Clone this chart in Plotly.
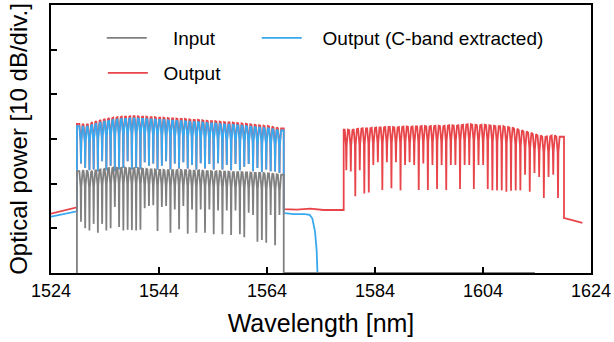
import plotly.graph_objects as go

# ---------------- data (dB; 10 dB/div, bottom = -60) ----------------
tick_vals_x = [1524, 1544, 1564, 1584, 1604, 1624]
tick_vals_y = [-50, -40, -30, -20, -10]

# C-band channel grid (nm)
c_channels = [1529.55, 1530.33, 1531.12, 1531.90, 1532.68, 1533.47, 1534.25, 1535.04, 1535.82,
              1536.61, 1537.40, 1538.19, 1538.98, 1539.77, 1540.56, 1541.35, 1542.14, 1542.94,
              1543.73, 1544.53, 1545.32, 1546.12, 1546.92, 1547.72, 1548.51, 1549.32, 1550.12,
              1550.92, 1551.72, 1552.52, 1553.33, 1554.13, 1554.94, 1555.75, 1556.55, 1557.36,
              1558.17, 1558.98, 1559.79, 1560.61, 1561.42, 1562.23, 1563.05, 1563.86, 1564.68,
              1565.50, 1566.31]
c_band_edges = [1528.8, 1567.1]

input_top = [-37.2, -37.0, -37.4, -37.1, -36.9, -36.8, -36.6, -36.5, -36.4, -36.5, -36.4, -36.5,
             -36.6, -36.5, -36.6, -36.7, -36.8, -36.8, -36.9, -36.9, -37.0, -37.0, -37.0, -36.9,
             -37.0, -37.0, -37.1, -37.1, -37.0, -37.2, -37.2, -37.3, -37.2, -37.3, -37.3, -37.4,
             -37.4, -37.4, -37.5, -37.5, -37.6, -37.6, -37.6, -37.7, -37.7, -37.9, -38.0]
input_dip = [-48.5, -50.0, -50.5, -49.0, -51.0, -49.0, -50.5, -50.0, -45.2, -49.7, -50.5, -50.3,
             -50.4, -50.5, -50.3, -45.5, -45.0, -44.8, -50.6, -45.2, -45.0, -51.0, -45.8, -50.2,
             -45.0, -51.2, -45.8, -51.0, -45.8, -51.0, -45.8, -51.3, -46.0, -51.3, -46.0, -51.5,
             -46.0, -51.3, -52.0, -46.5, -47.0, -53.0, -52.6, -53.2, -47.0, -53.8, -47.0]
input_floor_x = [1567.15, 1613.6]
input_floor_y = [-60.0, -60.0]

cband_top = [-27.1, -27.3, -27.1, -26.7, -26.5, -26.2, -26.0, -25.8, -25.7, -25.6, -25.5, -25.5,
             -25.4, -25.4, -25.5, -25.5, -25.6, -25.6, -25.7, -25.7, -25.8, -25.9, -25.9, -26.0,
             -26.0, -26.1, -26.2, -26.2, -26.3, -26.4, -26.5, -26.5, -26.6, -26.7, -26.8, -26.8,
             -26.9, -27.0, -27.1, -27.2, -27.3, -27.4, -27.5, -27.6, -27.7, -27.9, -28.1]
cband_dip = [-35.5, -36.5, -37.0, -36.8, -37.2, -35.0, -37.0, -36.0, -37.2, -36.8, -36.5, -35.0,
             -36.8, -36.5, -36.8, -35.2, -36.0, -35.5, -36.8, -36.0, -35.0, -36.8, -35.5, -36.6,
             -35.2, -36.6, -35.8, -36.8, -35.4, -36.6, -35.6, -36.8, -35.4, -36.8, -35.8, -37.0,
             -35.6, -37.0, -36.2, -35.6, -37.2, -36.5, -37.4, -36.8, -37.2, -37.3, -37.6]
cband_left_x = [1524.0, 1526.0, 1528.7]
cband_left_y = [-47.4, -46.9, -46.2]
cband_right_x = [1567.2, 1569.0, 1571.0, 1571.9, 1572.4, 1572.9, 1573.2, 1573.4]
cband_right_y = [-46.6, -46.8, -46.8, -47.0, -47.8, -50.8, -55.0, -62.0]

output_c_top = [-26.6, -26.8, -26.6, -26.2, -26.0, -25.7, -25.5, -25.3, -25.2, -25.1, -25.0, -25.0,
                -24.9, -24.9, -25.0, -25.0, -25.1, -25.1, -25.2, -25.2, -25.3, -25.4, -25.4, -25.5,
                -25.5, -25.6, -25.7, -25.7, -25.8, -25.9, -26.0, -26.0, -26.1, -26.2, -26.3, -26.3,
                -26.4, -26.5, -26.6, -26.7, -26.8, -26.9, -27.0, -27.1, -27.2, -27.4, -27.6]

# L-band channel grid (nm)
l_channels = [1578.69, 1579.52, 1580.35, 1581.18, 1582.02, 1582.85, 1583.69, 1584.53, 1585.36,
              1586.20, 1587.04, 1587.88, 1588.73, 1589.57, 1590.41, 1591.26, 1592.10, 1592.95,
              1593.79, 1594.64, 1595.49, 1596.34, 1597.19, 1598.04, 1598.89, 1599.75, 1600.60,
              1601.46, 1602.31, 1603.17, 1604.03, 1604.88, 1605.74, 1606.60, 1607.47, 1608.33,
              1609.19, 1610.06, 1610.92, 1611.79, 1612.66, 1613.53, 1614.40, 1615.27, 1616.14,
              1617.01, 1617.89]
l_band_edges = [1578.2, 1619.0]
output_l_top = [-27.9, -28.0, -27.8, -27.7, -27.6, -27.6, -27.5, -27.4, -27.4, -27.3, -27.3, -27.4,
                -27.3, -27.2, -27.3, -27.2, -27.2, -27.1, -27.2, -27.1, -27.0, -27.1, -27.0, -26.9,
                -27.0, -26.9, -26.8, -26.7, -26.8, -26.9, -26.8, -26.9, -27.0, -27.1, -27.1, -27.3,
                -27.4, -27.7, -28.0, -28.3, -28.6, -28.9, -29.2, -29.5, -29.4, -29.2, -29.5]
output_l_dip = [-37.0, -37.3, -42.8, -37.0, -42.2, -42.0, -35.8, -35.2, -41.4, -35.2, -41.0, -35.2,
                -41.5, -35.8, -35.2, -35.8, -41.4, -35.5, -41.4, -35.8, -41.2, -35.8, -41.4, -35.8,
                -35.8, -41.2, -35.8, -35.8, -41.2, -35.8, -35.8, -41.2, -41.5, -41.5, -41.5, -41.8,
                -41.6, -41.5, -41.5, -38.0, -41.8, -37.6, -38.5, -43.2, -38.5, -38.0, -43.2]
output_left_x = [1524.0, 1526.0, 1528.7]
output_left_y = [-46.7, -46.1, -45.3]
output_gap_x = [1567.2, 1569.5, 1572.0, 1574.5, 1578.0]
output_gap_y = [-45.7, -45.8, -45.6, -45.9, -45.9]
output_tail_x = [1619.1, 1622.4]
output_tail_y = [-47.7, -48.8]

# ---------------- drawing style for a channel notch ----------------
HALF = 0.30       # nm, notch half-width at the top
NECK = 0.07       # nm, notch half-width at the shoulder
SHOULDER = 3.5    # dB below the local top where the notch narrows


def notched(channels, tops, dips, edges, lead_y, trail_y):
    xs = [edges[0], edges[0]]
    ys = [lead_y, tops[0]]
    for c, t, d in zip(channels, tops, dips):
        xs += [c - HALF, c - NECK, c, c + NECK, c + HALF]
        ys += [t, t - SHOULDER, d, t - SHOULDER, t]
    xs += [edges[1], edges[1]]
    ys += [tops[-1], trail_y]
    return xs, ys


# Output (red)
rx, ry = list(output_left_x), list(output_left_y)
x1, y1 = notched(c_channels, output_c_top, cband_dip, c_band_edges, output_left_y[-1], output_gap_y[0])
rx += x1; ry += y1
rx += output_gap_x; ry += output_gap_y
x2, y2 = notched(l_channels, output_l_top, output_l_dip, l_band_edges, output_gap_y[-1], output_tail_y[0])
rx += x2; ry += y2
rx += output_tail_x; ry += output_tail_y

# Output (C-band extracted) (blue)
bx, by = list(cband_left_x), list(cband_left_y)
x3, y3 = notched(c_channels, cband_top, cband_dip, c_band_edges, cband_left_y[-1], cband_right_y[0])
bx += x3; by += y3
bx += cband_right_x; by += cband_right_y

# Input (gray)
gx, gy = notched(c_channels, input_top, input_dip, c_band_edges, -62.0, -60.0)
gx += input_floor_x; gy += input_floor_y

FONT = "Liberation Sans, Arial, sans-serif"
NB = "\u00a0"
LW = 1.8

fig = go.Figure()
fig.add_trace(go.Scatter(x=rx, y=ry, mode="lines", name=NB * 2 + "Output",
                         line=dict(color="#E8454A", width=LW), legend="legend2"))
fig.add_trace(go.Scatter(x=bx, y=by, mode="lines", name=NB * 3 + "Output (C-band extracted)",
                         line=dict(color="#3AA8EE", width=LW), legend="legend3"))
fig.add_trace(go.Scatter(x=gx, y=gy, mode="lines", name=NB * 4 + "Input",
                         line=dict(color="#808080", width=LW), legend="legend"))

leg_common = dict(orientation="h", xanchor="left", yanchor="middle", itemwidth=40,
                  font=dict(size=19, family=FONT), bgcolor="rgba(0,0,0,0)")

fig.update_layout(
    width=614, height=342,
    showlegend=True,
    margin=dict(l=51, r=23, t=5, b=69, autoexpand=False),
    paper_bgcolor="white", plot_bgcolor="white",
    font=dict(family=FONT, color="black"),
    legend=dict(x=0.094, y=0.877, **leg_common),
    legend3=dict(x=0.381, y=0.877, **leg_common),
    legend2=dict(x=0.096, y=0.746, **leg_common),
    xaxis=dict(range=[1524, 1624], tickvals=tick_vals_x, ticks="inside", ticklen=6,
               tickwidth=1.5, tickcolor="black", showline=True, linecolor="black",
               linewidth=2, mirror=True, showgrid=False, zeroline=False, automargin=False,
               tickfont=dict(size=18, family=FONT),
               title=dict(text="Wavelength [nm]", font=dict(size=25, family=FONT))),
    yaxis=dict(range=[-60, 0], tickvals=tick_vals_y, showticklabels=False, ticks="inside",
               ticklen=6, tickwidth=1.5, tickcolor="black", showline=True, linecolor="black",
               linewidth=2, mirror=True, showgrid=False, zeroline=False, automargin=False,
               title=dict(text="Optical power [10 dB/div.]", font=dict(size=24, family=FONT))),
)

fig.write_html("out.html", config={"displayModeBar": False},
               post_script="document.body.style.margin='0px';")
